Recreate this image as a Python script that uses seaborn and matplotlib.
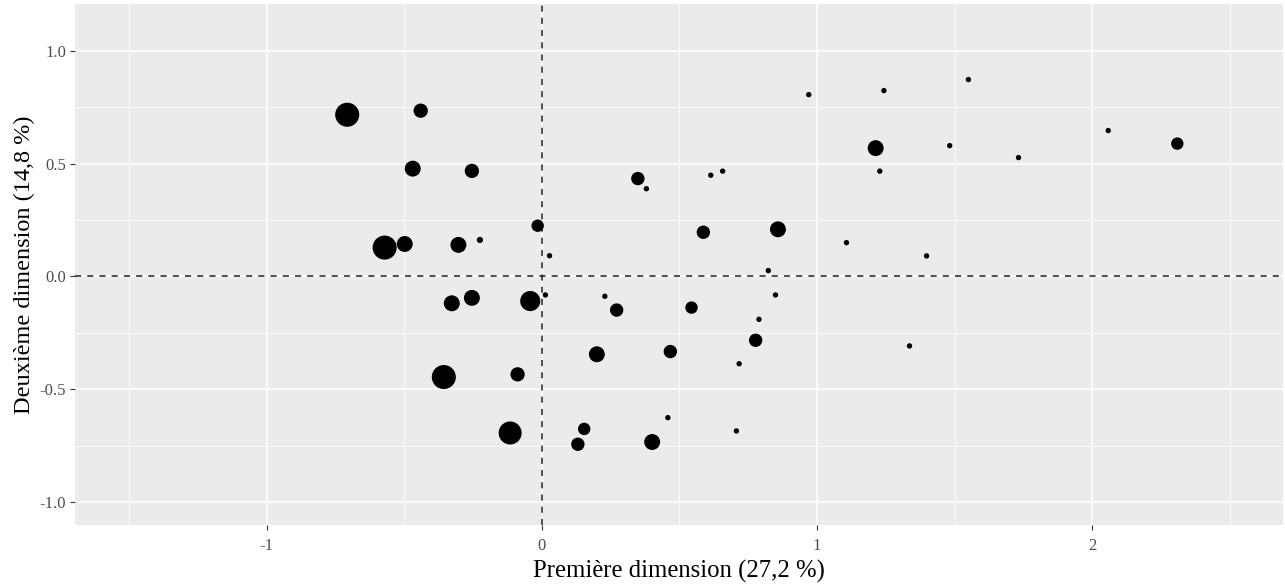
import numpy as np
import pandas as pd
import matplotlib
matplotlib.use("Agg")
import matplotlib.pyplot as plt
from matplotlib.ticker import MultipleLocator
import seaborn as sns

# Coordonnées des modalités sur les deux premières dimensions
dim1 = [-0.707, -0.440, -0.469, -0.254, -0.015, -0.571, -0.498, -0.303, -0.225, 0.028,
        -0.327, -0.254, -0.042, 0.013, -0.356, -0.088, -0.115, 0.349, 0.380, 0.614,
        0.657, 0.587, 0.858, 0.823, 0.229, 0.272, 0.544, 0.849, 0.789, 0.200,
        0.467, 0.777, 0.717, 0.458, 0.154, 0.131, 0.401, 0.707, 0.970, 1.243,
        1.550, 1.213, 1.482, 1.228, 1.107, 1.398, 1.336, 1.732, 2.058, 2.309]
dim2 = [0.717, 0.735, 0.478, 0.468, 0.225, 0.128, 0.144, 0.140, 0.162, 0.092,
        -0.119, -0.095, -0.109, -0.082, -0.446, -0.434, -0.694, 0.434, 0.389, 0.449,
        0.467, 0.196, 0.209, 0.026, -0.088, -0.149, -0.138, -0.082, -0.190, -0.345,
        -0.333, -0.283, -0.387, -0.626, -0.676, -0.744, -0.734, -0.685, 0.806, 0.824,
        0.873, 0.569, 0.580, 0.467, 0.150, 0.091, -0.308, 0.527, 0.647, 0.589]
# Effectifs (taille des points)
effectif = [23, 8, 10, 8, 6, 23, 10, 10, 1.4, 1,
            10, 10, 16, 1, 23, 8, 21, 7, 1, 1,
            1, 7, 10, 1, 1, 7, 6, 1, 1, 10,
            7, 7, 1, 1, 6, 7, 10, 1, 1, 1,
            1, 10, 1, 1, 1, 1, 1, 1, 1, 6]

xlabel = "Première dimension (27,2 %)"
ylabel = "Deuxième dimension (14,8 %)"

df = pd.DataFrame({"dim1": dim1, "dim2": dim2, "effectif": effectif})

sns.set_theme(style="darkgrid", rc={
    "axes.facecolor": "#EBEBEB",
    "grid.color": "white",
    "axes.edgecolor": "none",
})
plt.rcParams["font.family"] = ["Liberation Serif", "DejaVu Serif"]

fig = plt.figure(figsize=(12.85, 5.86), dpi=100)
ax = fig.add_axes([75 / 1285, 1 - 525 / 586, (1283 - 75) / 1285, (525 - 4) / 586])

ax.axhline(0, color="#222222", lw=1.1, ls=(0, (4, 4)), zorder=1)
ax.axvline(0, color="#222222", lw=1.1, ls=(0, (4, 4)), zorder=1)

sns.scatterplot(data=df, x="dim1", y="dim2", size="effectif",
                sizes=(15, 300), color="black", linewidth=0,
                legend=False, ax=ax, zorder=3)

ax.set_xlim(-1.696, 2.693)
ax.set_ylim(-1.102, 1.208)
ax.xaxis.set_minor_locator(MultipleLocator(0.5))
ax.yaxis.set_minor_locator(MultipleLocator(0.25))
ax.set_xticks([-1, 0, 1, 2])
ax.set_xticklabels(["-1", "0", "1", "2"])
ax.set_yticks([-1.0, -0.5, 0.0, 0.5, 1.0])
ax.set_yticklabels(["-1.0", "-0.5", "0.0", "0.5", "1.0"])
ax.grid(which="major", color="white", lw=1.1)
ax.grid(which="minor", color="white", lw=0.6)
ax.tick_params(which="major", length=3.5, width=0.8, color="#333333",
               labelsize=12, labelcolor="#4D4D4D")
ax.tick_params(axis="x", pad=6)
ax.tick_params(axis="y", pad=3)
ax.tick_params(which="minor", length=0)
ax.tick_params(axis="x", bottom=True)
ax.tick_params(axis="y", left=True)

ax.set_xlabel(xlabel, fontsize=17.8, color="black", labelpad=4)
ax.set_ylabel(ylabel, fontsize=17.5, color="black", labelpad=3)

fig.savefig("out.png", dpi=100)
